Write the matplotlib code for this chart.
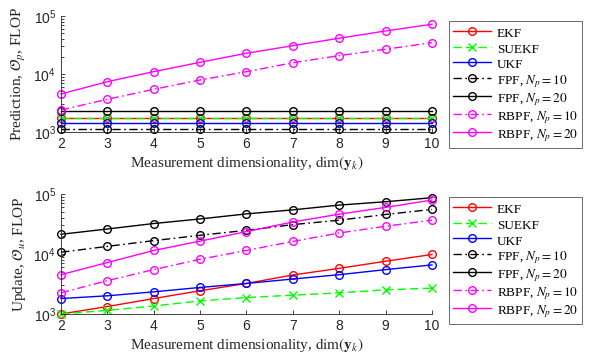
import numpy as np
import matplotlib
matplotlib.use("Agg")
import matplotlib.pyplot as plt

plt.rcParams["font.family"] = ["Liberation Serif", "DejaVu Serif"]
plt.rcParams["mathtext.fontset"] = "stix"

# =========================
# DATA
# =========================
dims = [2, 3, 4, 5, 6, 7, 8, 9, 10]

pred_ekf = [1750] * 9
pred_suekf = [1740] * 9
pred_ukf = [1410] * 9
pred_fpf10 = [1110] * 9
pred_fpf20 = [2300] * 9
pred_rbpf10 = [2400, 3660, 5450, 7880, 10950, 15650, 20700, 26650, 34650]
pred_rbpf20 = [4520, 7360, 10970, 15900, 22750, 30750, 41250, 55100, 71900]

upd_ekf = [1000, 1330, 1810, 2440, 3230, 4470, 5770, 7570, 9810]
upd_suekf = [1000, 1150, 1360, 1650, 1880, 2060, 2250, 2530, 2700]
upd_ukf = [1810, 2010, 2340, 2770, 3230, 3830, 4520, 5490, 6580]
upd_fpf10 = [10700, 13400, 16700, 20500, 24800, 30900, 36600, 45600, 55300]
upd_fpf20 = [21300, 26100, 32200, 38400, 46600, 54400, 65300, 74300, 86700]
upd_rbpf10 = [2250, 3590, 5490, 8180, 11450, 16200, 22400, 29000, 36600]
upd_rbpf20 = [4520, 7200, 11450, 16400, 23600, 34200, 46100, 59800, 79300]

labels = ["EKF", "SUEKF", "UKF", r"FPF, $N_p = 10$", r"FPF, $N_p = 20$",
          r"RBPF, $N_p = 10$", r"RBPF, $N_p = 20$"]
styles = [
    dict(color="red", ls="-", marker="o"),
    dict(color=(0, 1, 0), ls=(0, (6, 3)), marker="x"),
    dict(color="blue", ls="-", marker="o"),
    dict(color="black", ls=(0, (6, 2.5, 1.2, 2.5)), marker="o"),
    dict(color="black", ls="-", marker="o"),
    dict(color="magenta", ls=(0, (6, 2.5, 1.2, 2.5)), marker="o"),
    dict(color="magenta", ls="-", marker="o"),
]

pred = [pred_ekf, pred_suekf, pred_ukf, pred_fpf10, pred_fpf20, pred_rbpf10, pred_rbpf20]
upd = [upd_ekf, upd_suekf, upd_ukf, upd_fpf10, upd_fpf20, upd_rbpf10, upd_rbpf20]

fig = plt.figure(figsize=(5.95, 3.54), dpi=100)
ax1 = fig.add_axes([0.1025, 0.627, 0.6235, 0.328])
ax2 = fig.add_axes([0.1025, 0.113, 0.6235, 0.339])


def draw(ax, series, ylabel, legend_y):
    for vals, lab, st in zip(series, labels, styles):
        ax.plot(dims, vals, label=lab, lw=1.0, ms=5.5, mfc="none", mew=1.0,
                clip_on=False, **st)
    ax.set_yscale("log")
    ax.set_xlim(2, 10)
    ax.set_ylim(1e3, 1e5)
    ax.set_xticks(dims)
    for s in ["top", "right"]:
        ax.spines[s].set_visible(False)
    for s in ["left", "bottom"]:
        ax.spines[s].set_color("#262626")
        ax.spines[s].set_linewidth(0.6)
    ax.tick_params(which="both", direction="in", colors="#262626",
                   labelsize=10, width=0.6)
    ax.tick_params(which="major", length=3)
    ax.tick_params(which="minor", length=2)
    for t in ax.get_xticklabels() + ax.get_yticklabels():
        t.set_fontfamily(["Liberation Sans", "DejaVu Sans"])
    ax.set_xlabel(r"Measurement dimensionality, $\mathrm{dim}(\mathbf{y}_k)$",
                  fontsize=11, color="#262626", labelpad=2)
    ax.set_ylabel(ylabel, fontsize=11, color="#262626", labelpad=4)
    leg = ax.legend(loc="upper left", bbox_to_anchor=(0.755, legend_y),
                    bbox_transform=fig.transFigure, fontsize=9.5,
                    fancybox=False, handlelength=2.9, handleheight=1.45,
                    borderpad=0.3, labelspacing=0.0, handletextpad=0.4,
                    borderaxespad=0)
    leg.get_frame().set_edgecolor("#262626")
    leg.get_frame().set_linewidth(0.6)


draw(ax1, pred, r"Prediction, $\mathcal{O}_p$, FLOP", 0.941)
draw(ax2, upd, r"Update, $\mathcal{O}_u$, FLOP", 0.4435)

fig.savefig("out.png", dpi=100)
